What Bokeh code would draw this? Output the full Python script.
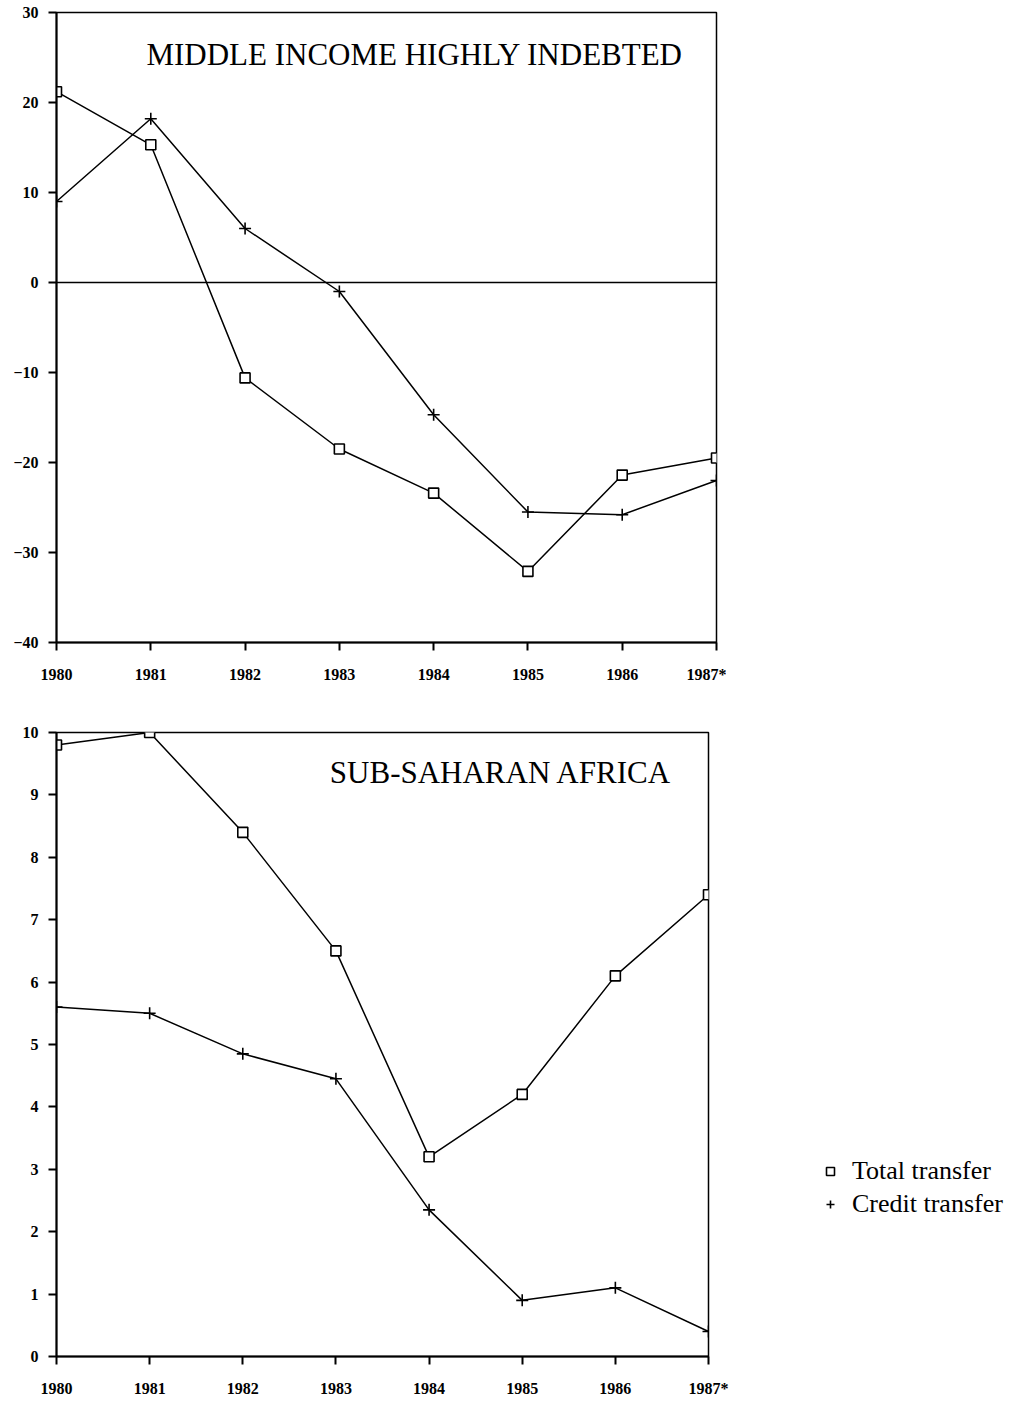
from bokeh.plotting import figure
from bokeh.models import Range1d, FixedTicker, Span, Label, Legend, LegendItem
from bokeh.layouts import column
from bokeh.embed import file_html
from bokeh.resources import INLINE

years = [1980, 1981, 1982, 1983, 1984, 1985, 1986, 1987]
year_label_overrides = {1987: "1987*"}

mih_title = "MIDDLE INCOME HIGHLY INDEBTED"
mih_total = [21.2, 15.3, -10.6, -18.5, -23.4, -32.1, -21.4, -19.5]
mih_credit = [9.0, 18.2, 6.0, -1.0, -14.7, -25.5, -25.8, -22.0]
mih_ticks = [-40, -30, -20, -10, 0, 10, 20, 30]

ssa_title = "SUB-SAHARAN AFRICA"
ssa_total = [9.8, 10.0, 8.4, 6.5, 3.2, 4.2, 6.1, 7.4]
ssa_credit = [5.6, 5.5, 4.85, 4.45, 2.35, 0.9, 1.1, 0.4]
ssa_ticks = [0, 1, 2, 3, 4, 5, 6, 7, 8, 9, 10]

legend_labels = ["Total transfer", "Credit transfer"]

TICK_FONT = "Liberation Serif"


def style(p, yticks):
    p.xaxis.ticker = FixedTicker(ticks=years)
    p.yaxis.ticker = FixedTicker(ticks=yticks)
    p.xaxis.major_label_overrides = year_label_overrides
    p.xgrid.visible = False
    p.ygrid.visible = False
    for ax in (p.xaxis[0], p.yaxis[0]):
        ax.axis_line_width = 2
        ax.axis_line_color = "black"
        ax.major_tick_in = 0
        ax.major_tick_out = 8
        ax.major_tick_line_width = 2
        ax.major_tick_line_color = "black"
        ax.minor_tick_line_color = None
        ax.major_label_text_font = TICK_FONT
        ax.major_label_text_font_style = "bold"
        ax.major_label_text_font_size = "16px"
        ax.major_label_text_color = "black"
    p.xaxis.major_label_standoff = 15
    p.yaxis.major_label_standoff = 10
    p.outline_line_color = "black"
    p.outline_line_width = 1.5
    p.outline_line_alpha = 1.0
    p.background_fill_color = "white"
    p.border_fill_color = "white"


# ---- top chart ----
p1 = figure(frame_width=660, frame_height=630, min_border_left=56, min_border_top=12,
            min_border_bottom=50, min_border_right=10,
            x_range=Range1d(1980, 1987), y_range=Range1d(-40, 30),
            output_backend="svg", toolbar_location=None)
style(p1, mih_ticks)
p1.add_layout(Span(location=0, dimension="width", line_color="black", line_width=1.3))
p1.line(years, mih_total, line_color="black", line_width=1.5)
p1.line(years, mih_credit, line_color="black", line_width=1.5)
p1.scatter(years, mih_total, marker="square", size=10, fill_color="white",
           line_color="black", line_width=1.6)
p1.scatter(years, mih_credit, marker="cross", size=12, line_color="black", line_width=1.6)
p1.add_layout(Label(x=1983.8, y=25.3, text=mih_title, text_font="Liberation Serif",
                    text_font_size="31px", text_align="center", text_baseline="middle",
                    text_color="black"))

# ---- bottom chart ----
p2 = figure(frame_width=652, frame_height=624, min_border_left=55, min_border_top=40,
            min_border_bottom=42, min_border_right=300,
            x_range=Range1d(1980, 1987), y_range=Range1d(0, 10),
            output_backend="svg", toolbar_location=None)
style(p2, ssa_ticks)
p2.line(years, ssa_total, line_color="black", line_width=1.5)
p2.line(years, ssa_credit, line_color="black", line_width=1.5)
r_tot = p2.scatter(years, ssa_total, marker="square", size=10, fill_color="white",
                   line_color="black", line_width=1.6)
r_cred = p2.scatter(years, ssa_credit, marker="cross", size=12, line_color="black",
                    line_width=1.6)
p2.add_layout(Label(x=1984.77, y=9.36, text=ssa_title, text_font="Liberation Serif",
                    text_font_size="31px", text_align="center", text_baseline="middle",
                    text_color="black"))

legend = Legend(items=[LegendItem(label=legend_labels[0], renderers=[r_tot]),
                       LegendItem(label=legend_labels[1], renderers=[r_cred])],
                location=(112, 137), margin=0, padding=0, spacing=3,
                border_line_color=None, background_fill_alpha=0,
                label_text_font="Liberation Serif", label_text_font_size="26px",
                label_text_color="black",
                label_standoff=12, glyph_width=20, glyph_height=20)
p2.add_layout(legend, "right")

layout = column(p1, p2, spacing=0)
open("out.html", "w").write(file_html(layout, INLINE))
